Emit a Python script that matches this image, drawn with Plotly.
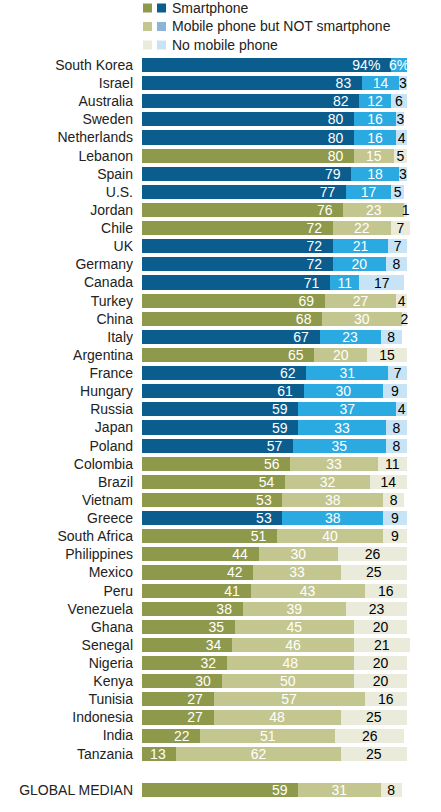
import plotly.graph_objects as go

countries = ["South Korea", "Israel", "Australia", "Sweden", "Netherlands", "Lebanon",
             "Spain", "U.S.", "Jordan", "Chile", "UK", "Germany", "Canada", "Turkey",
             "China", "Italy", "Argentina", "France", "Hungary", "Russia", "Japan",
             "Poland", "Colombia", "Brazil", "Vietnam", "Greece", "South Africa",
             "Philippines", "Mexico", "Peru", "Venezuela", "Ghana", "Senegal", "Nigeria",
             "Kenya", "Tunisia", "Indonesia", "India", "Tanzania", " ", "GLOBAL MEDIAN"]

smartphone = [94, 83, 82, 80, 80, 80, 79, 77, 76, 72, 72, 72, 71, 69, 68, 67, 65, 62,
              61, 59, 59, 57, 56, 54, 53, 53, 51, 44, 42, 41, 38, 35, 34, 32, 30, 27,
              27, 22, 13, None, 59]
mobile_only = [6, 14, 12, 16, 16, 15, 18, 17, 23, 22, 21, 20, 11, 27, 30, 23, 20, 31,
               30, 37, 33, 35, 33, 32, 38, 38, 40, 30, 33, 43, 39, 45, 46, 48, 50, 57,
               48, 51, 62, None, 31]
no_phone = [None, 3, 6, 3, 4, 5, 3, 5, 1, 7, 7, 8, 17, 4, 2, 8, 15, 7, 9, 4, 8, 8, 11,
            14, 8, 9, 9, 26, 25, 16, 23, 20, 21, 20, 20, 16, 25, 26, 25, None, 8]

advanced = {"South Korea", "Israel", "Australia", "Sweden", "Netherlands", "Spain", "U.S.",
            "UK", "Germany", "Canada", "Italy", "France", "Hungary", "Russia", "Japan",
            "Poland", "Greece"}

blue = ["#0b5d8e", "#2ba9e1", "#c6e4f5"]
green = ["#8f994b", "#c4c68f", "#ebebdc"]
legend_blue = ["#0b5d8e", "#8db3d6", "#c6e4f5"]

def colors(i):
    return [blue[i] if c in advanced else green[i] for c in countries]

def labels(vals, first_pct=False, pad=""):
    out = []
    for k, v in enumerate(vals):
        if v is None:
            out.append("")
        elif k == 0 and first_pct:
            out.append(f"{v}%{pad}")
        else:
            out.append(f"{v}{pad}")
    return out

font = "Liberation Sans"

fig = go.Figure()
fig.add_trace(go.Bar(
    y=countries, x=smartphone, orientation="h", marker_color=colors(0),
    text=labels(smartphone, True, "\u00a0\u00a0"), textposition="inside",
    insidetextanchor="end",
    textfont=dict(color="white", size=14, family=font),
))
fig.add_trace(go.Bar(
    y=countries, x=mobile_only, orientation="h", marker_color=colors(1),
    text=labels(mobile_only, True), textposition="inside", insidetextanchor="middle",
    textfont=dict(color="white", size=14, family=font),
))
fig.add_trace(go.Bar(
    y=countries, x=no_phone, orientation="h", marker_color=colors(2),
    text=labels(no_phone), textposition="inside", insidetextanchor="middle",
    textfont=dict(color="black", size=14, family=font),
))
for tr in fig.data:
    tr.marker.line.width = 0
    tr.hoverinfo = "skip"
    tr.textangle = 0
    tr.constraintext = "none"
    tr.cliponaxis = False

# legend drawn by hand: a green and a blue swatch per row
def px(x):
    return (x - 142) / 269

def py(y):
    return (799 - y) / 743

legend_items = ["Smartphone", "Mobile phone but NOT smartphone", "No mobile phone"]
shapes = []
annotations = []
for i, name in enumerate(legend_items):
    yc = 8 + i * 18.5
    for j, col in enumerate([green[i], legend_blue[i]]):
        x0 = 143 + j * 14
        shapes.append(dict(type="rect", xref="paper", yref="paper",
                           x0=px(x0), x1=px(x0 + 9), y0=py(yc + 4.5), y1=py(yc - 4.5),
                           line_width=0, fillcolor=col))
    annotations.append(dict(text=name, xref="paper", yref="paper",
                            x=px(170), y=py(yc), xanchor="left", yanchor="middle",
                            showarrow=False,
                            font=dict(size=14, family=font, color="#222")))

fig.update_layout(
    width=441, height=812,
    margin=dict(l=142, r=30, t=56, b=13),
    barmode="stack", bargap=0.22, showlegend=False,
    plot_bgcolor="white", paper_bgcolor="white",
    xaxis=dict(range=[0, 101.5], visible=False, fixedrange=True),
    yaxis=dict(categoryorder="array", categoryarray=countries, autorange="reversed",
               showgrid=False, zeroline=False, ticks="", ticklabelstandoff=8,
               automargin=False,
               tickfont=dict(size=14, family=font, color="#222")),
    shapes=shapes, annotations=annotations,
)

# drop the browser's default 8px body margin so the figure fills the window
fig.write_html("out.html", config={"displayModeBar": False},
               post_script="document.body.style.margin='0';document.body.style.overflow='hidden';")
